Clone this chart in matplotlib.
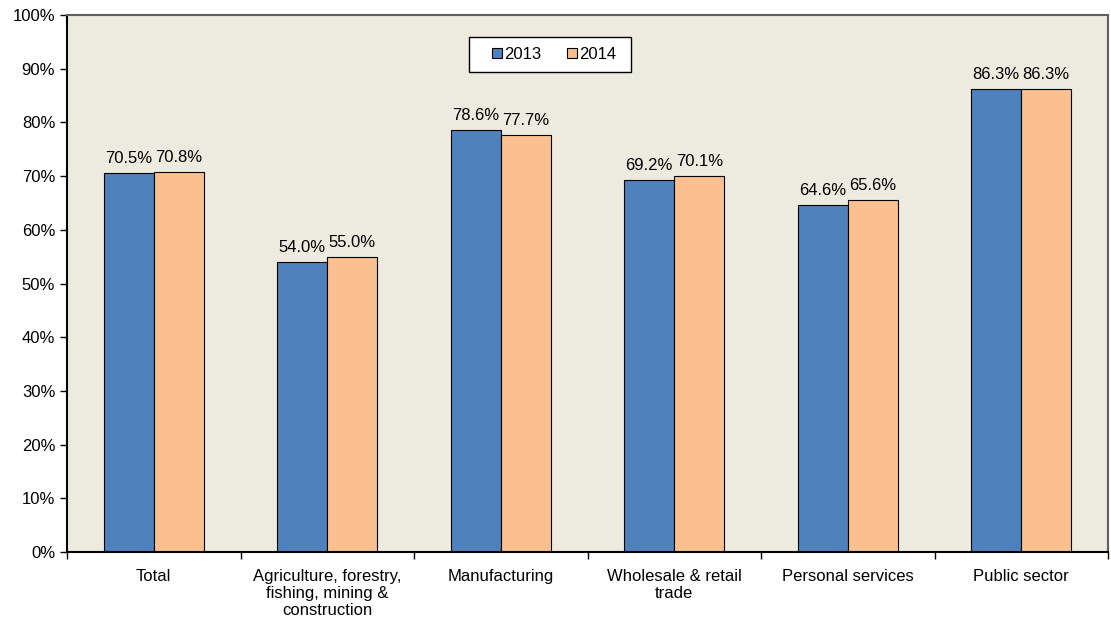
import matplotlib
matplotlib.use("Agg")
import matplotlib.pyplot as plt
import numpy as np
from matplotlib.ticker import FuncFormatter
from matplotlib.patches import Rectangle

plt.rcParams['font.family'] = ['Liberation Sans', 'DejaVu Sans']

categories = ["Total", "Agriculture, forestry,\nfishing, mining &\nconstruction", "Manufacturing",
              "Wholesale & retail\ntrade", "Personal services", "Public sector"]
v2013 = [70.5, 54.0, 78.6, 69.2, 64.6, 86.3]
v2014 = [70.8, 55.0, 77.7, 70.1, 65.6, 86.3]
series_labels = ["2013", "2014"]
yticks = list(range(0, 101, 10))

c13 = "#4F81BD"
c14 = "#FAC090"
bg = "#EDEAE0"
fs = 12

fig = plt.figure(figsize=(11.11, 6.2), dpi=100)
ax = fig.add_axes([67/1111, 1-552/620, (1108-67)/1111, (552-15)/620])
ax.set_facecolor(bg)

x = np.arange(len(categories))
w = 0.288
b1 = ax.bar(x - w/2, v2013, w, color=c13, edgecolor="black", linewidth=0.8, label=series_labels[0])
b2 = ax.bar(x + w/2, v2014, w, color=c14, edgecolor="black", linewidth=0.8, label=series_labels[1])

for bars, vals in ((b1, v2013), (b2, v2014)):
    for r, v in zip(bars, vals):
        ax.annotate(f"{v:.1f}%", (r.get_x() + r.get_width()/2, v), xytext=(0, 5),
                    textcoords="offset points", ha="center", va="bottom", fontsize=fs)

ax.set_xlim(-0.5, len(categories) - 0.5)
ax.set_ylim(0, 100)
ax.set_yticks(yticks)
ax.yaxis.set_major_formatter(FuncFormatter(lambda v, p: f"{int(v)}%"))
ax.tick_params(axis='y', labelsize=fs, length=5, direction='out', width=1)

ax.set_xticks(np.arange(-0.5, len(categories), 1.0))
ax.set_xticklabels([])
ax.set_xticks(x, minor=True)
ax.set_xticklabels(categories, minor=True, fontsize=fs, linespacing=1.18)
ax.tick_params(axis='x', which='minor', length=0, pad=12)
ax.tick_params(axis='x', which='major', length=5, direction='out', width=1)

ax.spines['left'].set_color('black')
ax.spines['left'].set_linewidth(1.5)
ax.spines['bottom'].set_color('black')
ax.spines['bottom'].set_linewidth(1.5)
ax.spines['top'].set_color('#606060')
ax.spines['top'].set_linewidth(1.5)
ax.spines['right'].set_color('#606060')
ax.spines['right'].set_linewidth(1.5)

# legend frame drawn separately
ax.add_patch(Rectangle((0.386, 0.894), 0.156, 0.065, transform=ax.transAxes,
                       facecolor='white', edgecolor='black', linewidth=1.0, zorder=4))
leg = ax.legend(loc='center', bbox_to_anchor=(0.468, 0.927), ncol=2, fontsize=fs,
                frameon=False, handlelength=0.6, handleheight=0.6, handletextpad=0.12,
                columnspacing=1.55, borderpad=0.3)
leg.set_zorder(5)
for h in leg.legend_handles:
    h.set_linewidth(0.8)

fig.savefig("out.png", dpi=100, facecolor="white")
